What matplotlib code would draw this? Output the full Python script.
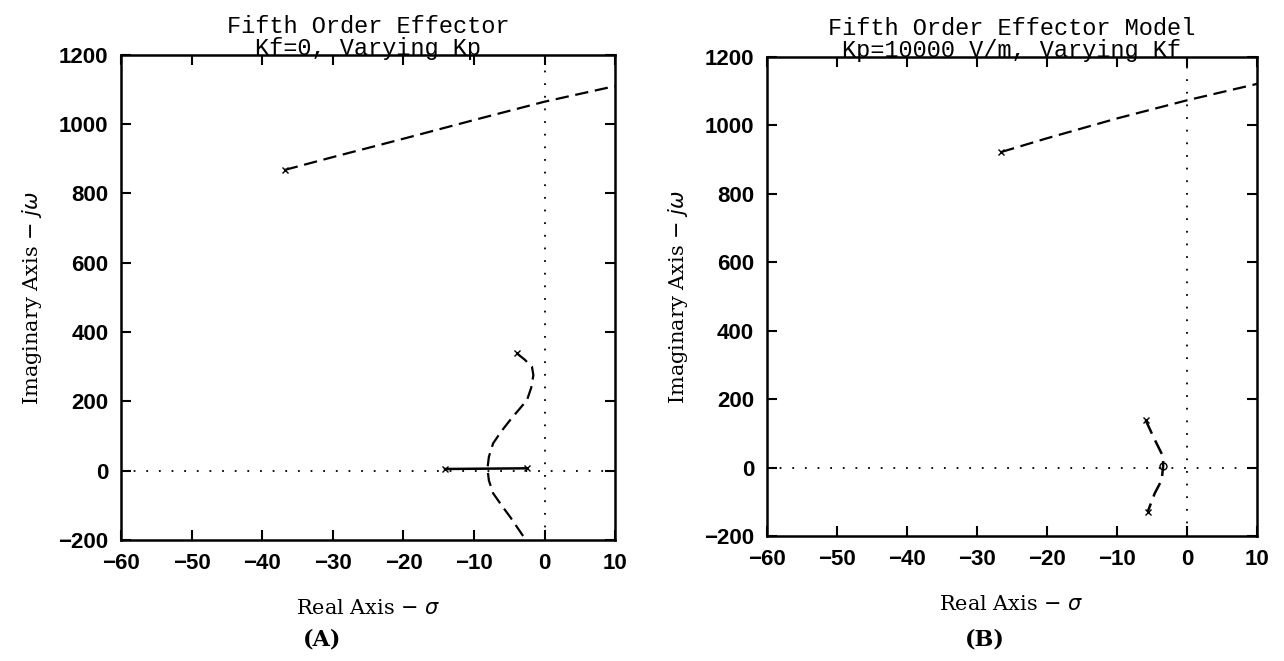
import matplotlib
matplotlib.use('Agg')
import matplotlib.pyplot as plt
import numpy as np

# --- data ---
# (A) Kf = 0, varying Kp
a_upper_re = [-36.8, -30, -20, -10, 0, 10]
a_upper_im = [868, 905, 958, 1012, 1065, 1110]
a_lower_re = [-3.95, -2.8, -1.8, -1.6, -1.9, -2.5, -4.9, -6.2, -7.3, -7.9, -8.1,
              -7.9, -7.3, -6.1, -4.9, -3.0, -2.6]
a_lower_im = [339, 320, 300, 276, 240, 204, 146, 112, 79, 40, 7,
              -28, -65, -100, -133, -190, -215]
a_real_re = [-14.1, -2.5]
a_real_im = [5, 7]

# (B) Kp = 10000 V/m, varying Kf
b_upper_re = [-26.5, -20, -10, 0, 10]
b_upper_im = [922, 962, 1020, 1073, 1121]
b_lower_re = [-5.9, -4.8, -3.4, -3.4, -3.6, -4.6, -5.6]
b_lower_im = [139, 90, 32, 5, -36, -75, -129]
b_mid_re = [-3.4]
b_mid_im = [5]

x_ticks = [-60, -50, -40, -30, -20, -10, 0, 10]
y_ticks = [-200, 0, 200, 400, 600, 800, 1000, 1200]

DASH = (0, (6, 3))
DOT = (0, (1, 6))
title_font = dict(family='Liberation Mono', fontsize=17)
label_font = dict(family='DejaVu Serif', fontsize=15)
tick_font = dict(family='Liberation Sans', fontsize=16, fontweight='bold')


def setup_axes(ax, title):
    ax.set_xlim(-60, 10)
    ax.set_ylim(-200, 1200)
    ax.axhline(0, color='black', linestyle=DOT, linewidth=1.3)
    ax.axvline(0, color='black', linestyle=DOT, linewidth=1.3)
    ax.set_xticks(x_ticks)
    ax.set_yticks(y_ticks)
    ax.set_xticklabels([str(v).replace('-', '\u2212') for v in x_ticks], **tick_font)
    ax.set_yticklabels([str(v).replace('-', '\u2212') for v in y_ticks], **tick_font)
    ax.tick_params(direction='in', length=7, width=1.5, top=True, right=True, pad=9)
    for s in ax.spines.values():
        s.set_linewidth(1.8)
    ax.set_xlabel('Real Axis \u2212 $\\sigma$', labelpad=18, **label_font)
    ax.set_ylabel('Imaginary Axis \u2212 $j\\omega$', labelpad=10, **label_font)
    ax.set_title(title, pad=0, linespacing=0.95, **title_font)


fig = plt.figure(figsize=(12.84, 6.61), dpi=100)
ax1 = fig.add_axes([0.0942, 0.183, 0.385, 0.734])
ax2 = fig.add_axes([0.597, 0.189, 0.382, 0.725])

setup_axes(ax1, 'Fifth Order Effector\nKf=0, Varying Kp')
ax1.plot(a_upper_re, a_upper_im, color='black', linestyle=DASH, linewidth=1.6)
ax1.plot(a_lower_re, a_lower_im, color='black', linestyle=DASH, linewidth=1.6)
ax1.plot(a_real_re, a_real_im, color='black', linestyle='-', linewidth=1.8)
ax1.plot(a_upper_re[0], a_upper_im[0], marker='x', color='black', markersize=5)
ax1.plot(a_lower_re[0], a_lower_im[0], marker='x', color='black', markersize=5)
ax1.plot(a_real_re, a_real_im, 'x', color='black', markersize=5)

setup_axes(ax2, 'Fifth Order Effector Model\nKp=10000 V/m, Varying Kf')
ax2.plot(b_upper_re, b_upper_im, color='black', linestyle=DASH, linewidth=1.6)
ax2.plot(b_lower_re, b_lower_im, color='black', linestyle=DASH, linewidth=1.8)
ax2.plot(b_upper_re[0], b_upper_im[0], marker='x', color='black', markersize=5)
ax2.plot([b_lower_re[0], b_lower_re[-1]], [b_lower_im[0], b_lower_im[-1]], 'x',
         color='black', markersize=5)
ax2.plot(b_mid_re, b_mid_im, marker='o', mfc='none', color='black', markersize=5)

fig.text(0.251, 0.032, '(A)', ha='center', va='center', family='DejaVu Serif',
         fontsize=16, fontweight='bold')
fig.text(0.767, 0.032, '(B)', ha='center', va='center', family='DejaVu Serif',
         fontsize=16, fontweight='bold')

fig.savefig('out.png', dpi=100)
